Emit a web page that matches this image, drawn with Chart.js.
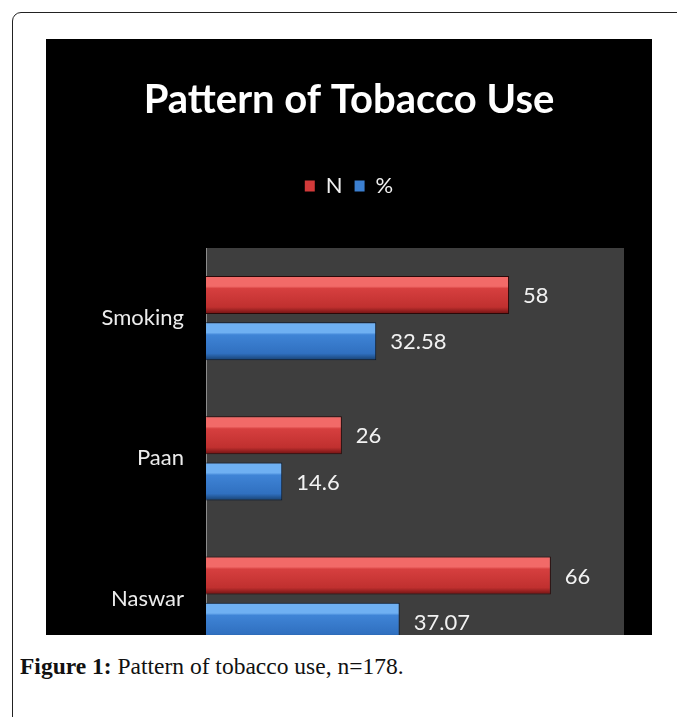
<!DOCTYPE html>
<html>
<head>
<meta charset="utf-8">
<script src="https://cdn.jsdelivr.net/npm/chart.js@4"></script>
<style>
  html, body { margin: 0; padding: 0; background: #fff; width: 677px; height: 717px; overflow: hidden; }
  #frame { position: absolute; left: 12px; top: 12px; width: 720px; height: 760px; border: 1.5px solid #222; border-radius: 9px; box-sizing: border-box; }
  #panel { position: absolute; left: 46px; top: 39px; width: 606px; height: 596px; background: #000; overflow: hidden; }
  #panel canvas { display: block; }
  #caption { position: absolute; left: 20px; top: 653px; font-family: "Liberation Serif", serif; font-size: 23.5px; color: #111; white-space: nowrap; }
  #caption b { font-weight: bold; }
</style>
</head>
<body>
<div id="frame"></div>
<div id="panel"><canvas id="c" width="606" height="657"></canvas></div>
<div id="caption"><b>Figure 1:</b> Pattern of tobacco use, n=178.</div>
<script>
const categories = ["Smoking", "Paan", "Naswar"];
const seriesN = [58, 26, 66];
const seriesPct = [32.58, 14.6, 37.07];
const seriesNames = ["N", "%"];
const labelsN = ["58", "26", "66"];
const labelsPct = ["32.58", "14.6", "37.07"];
const xMin = 0, xMax = 80;

const palettes = [
  { top: "#f26a68", mid: "#d63f3f", low: "#c0302f", bottom: "#6e1212", legend: "#d23a3a" },
  { top: "#6fb0f2", mid: "#3f84d6", low: "#3070c0", bottom: "#17406f", legend: "#3b7fd0" }
];

const bgPlugin = {
  id: "bg",
  beforeDraw(chart) {
    const { ctx, chartArea: a } = chart;
    ctx.save();
    ctx.fillStyle = "#3e3e3e";
    ctx.fillRect(a.left, a.top, a.right - a.left, a.bottom - a.top);
    ctx.restore();
  }
};

const gradPlugin = {
  id: "grad",
  beforeDatasetDraw(chart, args) {
    const meta = args.meta;
    const p = palettes[args.index];
    const ctx = chart.ctx;
    meta.data.forEach(el => {
      const h = el.height;
      const t = el.y - h / 2, b = el.y + h / 2;
      const g = ctx.createLinearGradient(0, t, 0, b);
      g.addColorStop(0, p.top);
      g.addColorStop(0.27, p.top);
      g.addColorStop(0.33, p.mid);
      g.addColorStop(0.82, p.low);
      g.addColorStop(1, p.bottom);
      el.options.backgroundColor = g;
    });
  }
};

const labelPlugin = {
  id: "vals",
  afterDatasetsDraw(chart) {
    const ctx = chart.ctx;
    const texts = [labelsN, labelsPct];
    ctx.save();
    ctx.fillStyle = "#f2f2f2";
    ctx.font = "22px Lato, sans-serif";
    ctx.textAlign = "left";
    ctx.textBaseline = "middle";
    chart.data.datasets.forEach((ds, i) => {
      chart.getDatasetMeta(i).data.forEach((el, j) => {
        ctx.fillText(texts[i][j], el.x + 14, el.y + 1);
      });
    });
    ctx.restore();
  }
};

new Chart(document.getElementById("c"), {
  type: "bar",
  data: {
    labels: categories,
    datasets: [
      { label: seriesNames[0], data: seriesN, backgroundColor: () => palettes[0].legend, borderColor: "#2a0808", borderWidth: 1, borderSkipped: "left" },
      { label: seriesNames[1], data: seriesPct, backgroundColor: () => palettes[1].legend, borderColor: "#0a1a30", borderWidth: 1, borderSkipped: "left" }
    ]
  },
  options: {
    indexAxis: "y",
    responsive: false,
    animation: false,
    devicePixelRatio: 1,
    categoryPercentage: 0.66,
    barPercentage: 0.82,
    layout: { padding: { left: 0, right: 0, top: 0, bottom: 9 } },
    plugins: {
      title: {
        display: true,
        text: "Pattern of Tobacco Use",
        color: "#ffffff",
        font: { family: "Lato, sans-serif", size: 40, weight: "bold", lineHeight: 1.0 },
        padding: { top: 41, bottom: 43 }
      },
      legend: {
        display: true,
        labels: {
          color: "#f0f0f0",
          font: { family: "Lato, sans-serif", size: 22 },
          boxWidth: 10,
          boxHeight: 11,
          padding: 12,
          generateLabels(chart) {
            return chart.data.datasets.map((ds, i) => ({
              text: ds.label,
              fillStyle: palettes[i].legend,
              strokeStyle: palettes[i].legend,
              lineWidth: 0,
              fontColor: "#f0f0f0",
              datasetIndex: i,
              hidden: false
            }));
          }
        }
      },
      tooltip: { enabled: false }
    },
    scales: {
      x: {
        display: true, position: "top", min: xMin, max: xMax,
        grid: { display: false }, border: { display: false }, ticks: { display: false },
        afterFit(scale) { scale.height = 41; }
      },
      x2: {
        display: true, position: "right", axis: "y", type: "category",
        grid: { display: false }, border: { display: false }, ticks: { display: false },
        afterFit(scale) { scale.width = 28; }
      },
      y: {
        grid: { display: false },
        border: { display: true, color: "#8c8c8c", width: 1 },
        ticks: { color: "#ececec", padding: 14, font: { family: "Lato, sans-serif", size: 22 } },
        afterFit(scale) { scale.width = 160; }
      }
    }
  },
  plugins: [bgPlugin, gradPlugin, labelPlugin]
});
</script>
</body>
</html>
